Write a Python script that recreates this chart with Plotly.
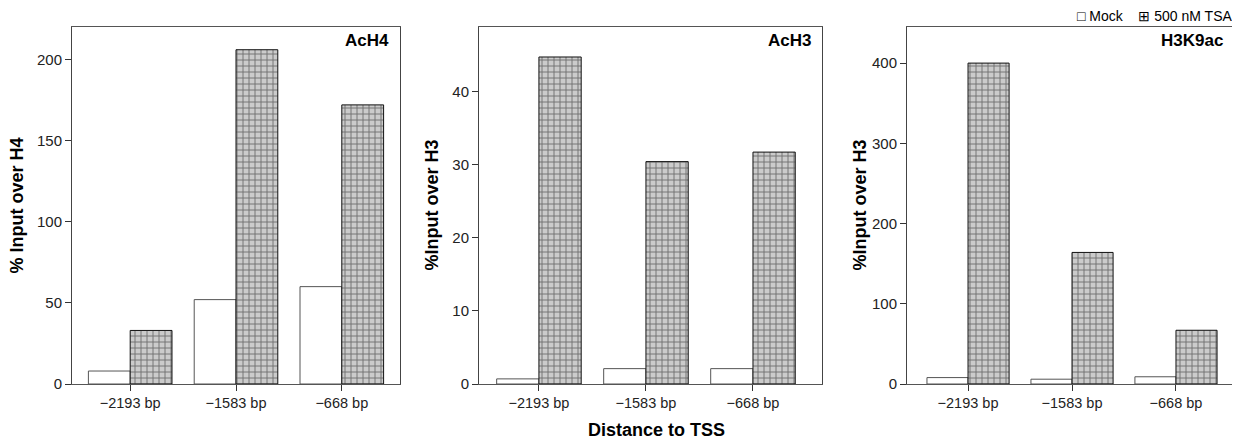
import plotly.graph_objects as go

categories = ["\u22122193 bp", "\u22121583 bp", "\u2212668 bp"]
panel_titles = ["AcH4", "AcH3", "H3K9ac"]
y_titles = ["% Input over H4", "%Input over H3", "%Input over H3"]
mock_ach4 = [8, 52, 60]
tsa_ach4 = [33, 206, 172]
mock_ach3 = [0.7, 2.1, 2.1]
tsa_ach3 = [44.7, 30.4, 31.7]
mock_h3k9 = [8, 6, 9]
tsa_h3k9 = [400, 164, 67]
y_ticks = [[0, 50, 100, 150, 200], [0, 10, 20, 30, 40], [0, 100, 200, 300, 400]]
x_label = "Distance to TSS"
legend_names = ["Mock", "500 nM TSA"]

# page body has an 8px default margin; work in reference pixel coords and shift
OFF = 8
W, H = 1240 - OFF, 443 - OFF
FONT = "Arial, Liberation Sans, sans-serif"


def fx(px):
    return (px - OFF) / W


def fy(py):
    return (H - (py - OFF)) / H


panels = [
    dict(mock=mock_ach4, tsa=tsa_ach4, x0=72, x1=400, xr=[-0.55, 2.55], yr=[0, 220], ytx=17),
    dict(mock=mock_ach3, tsa=tsa_ach3, x0=479, x1=822, xr=[-0.56, 2.645], yr=[0, 48.8], ytx=432),
    dict(mock=mock_h3k9, tsa=tsa_h3k9, x0=907, x1=1234, xr=[-0.587, 2.558], yr=[0, 445], ytx=860),
]
ytop, ybot = 27, 384
ydom = [fy(ybot), fy(ytop)]

fig = go.Figure()
annotations = []
for i, p in enumerate(panels):
    n = "" if i == 0 else str(i + 1)
    xa, ya = "x" + n, "y" + n
    fig.add_trace(go.Bar(
        x=categories, y=p["mock"], name=legend_names[0], xaxis=xa, yaxis=ya,
        marker=dict(color="white", line=dict(color="#555555", width=1)),
        showlegend=False, offsetgroup="mock"))
    fig.add_trace(go.Bar(
        x=categories, y=p["tsa"], name=legend_names[1], xaxis=xa, yaxis=ya,
        marker=dict(color="#c4c4c4", line=dict(color="#111111", width=1),
                    pattern=dict(shape="+", fgcolor="#1a1a1a", bgcolor="#cbcbcb",
                                 size=6, solidity=0.3)),
        showlegend=False, offsetgroup="tsa"))
    fig.layout["xaxis" + n] = dict(
        domain=[fx(p["x0"]), fx(p["x1"])], anchor=ya, range=p["xr"], type="category",
        showline=True, linecolor="#555555", linewidth=1, mirror=True,
        ticks="outside", ticklen=6, tickcolor="#333333",
        tickfont=dict(family=FONT, size=14.5, color="#222222"),
        showgrid=False, zeroline=False, fixedrange=True, automargin=False)
    fig.layout["yaxis" + n] = dict(
        domain=ydom, anchor=xa, range=p["yr"], tickvals=y_ticks[i],
        showline=True, linecolor="#444444", linewidth=1, mirror=True,
        ticks="outside", ticklen=6, tickcolor="#333333",
        tickfont=dict(family=FONT, size=15, color="#222222"),
        showgrid=False, zeroline=False, fixedrange=True, automargin=False)
    annotations.append(dict(
        text="<b>%s</b>" % panel_titles[i], xref="paper", yref="paper",
        x=fx(p["x1"]), y=fy(40), xanchor="right", yanchor="middle", xshift=-9,
        showarrow=False, font=dict(family=FONT, size=17, color="black")))
    annotations.append(dict(
        text="<b>%s</b>" % y_titles[i], xref="paper", yref="paper",
        x=fx(p["ytx"]), y=fy((ytop + ybot) / 2), xanchor="center", yanchor="middle",
        textangle=-90, showarrow=False, font=dict(family=FONT, size=18, color="black")))

annotations.append(dict(
    text="<b>%s</b>" % x_label, xref="paper", yref="paper",
    x=fx(656), y=fy(430), xanchor="center", yanchor="middle",
    showarrow=False, font=dict(family=FONT, size=18, color="black")))

# legend drawn as text with box glyphs, like the reference
annotations.append(dict(
    text="\u25a1 %s&nbsp;&nbsp;&nbsp;&nbsp;\u229e %s" % (legend_names[0], legend_names[1]),
    xref="paper", yref="paper", x=fx(1233), y=fy(16), xanchor="right", yanchor="middle",
    borderpad=0, showarrow=False, font=dict(family=FONT, size=14, color="black")))

fig.update_layout(
    width=W, height=H, margin=dict(l=0, r=0, t=0, b=0),
    paper_bgcolor="white", plot_bgcolor="white",
    barmode="group", bargap=0.21, bargroupgap=0,
    annotations=annotations, showlegend=False,
    font=dict(family=FONT),
)
fig.write_html("out.html")
